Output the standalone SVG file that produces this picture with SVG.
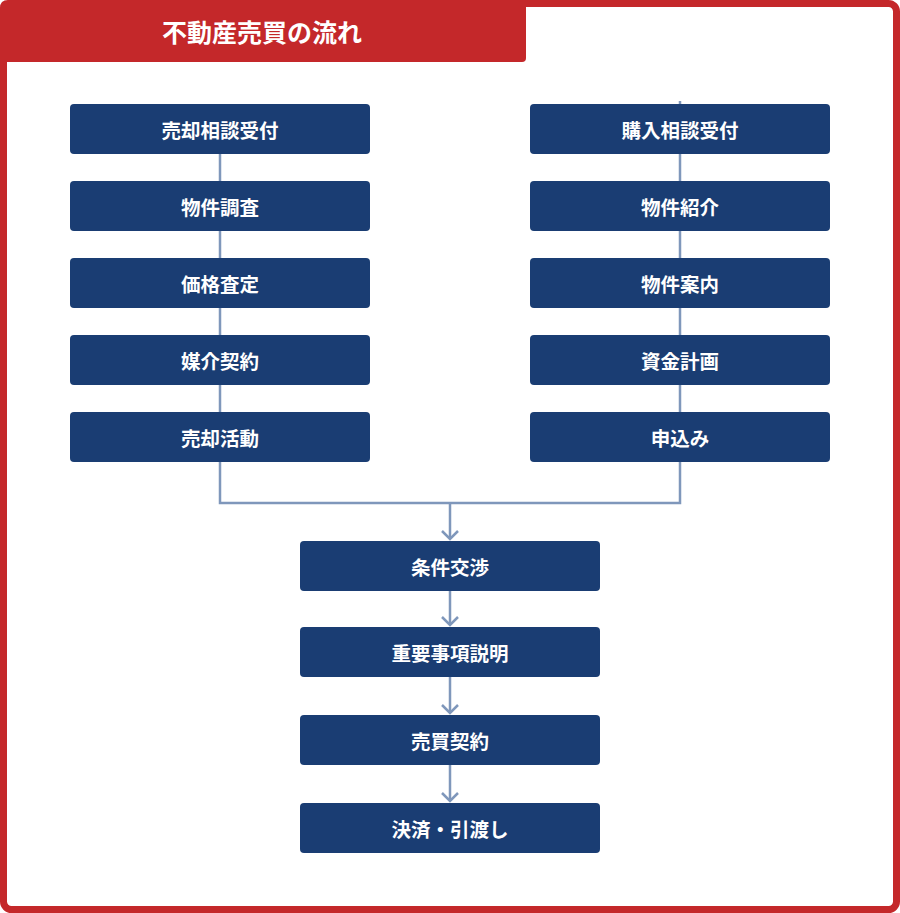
<svg xmlns="http://www.w3.org/2000/svg" width="900" height="913" viewBox="0 0 900 913">
<style>
.box{fill:#1a3d73;}
.lbl{fill:#ffffff;font-family:"Noto Sans CJK JP","Noto Sans CJK SC",sans-serif;font-weight:bold;font-size:19.5px;text-anchor:middle;dominant-baseline:central;}
.ln{stroke:#7f97bb;stroke-width:2.5;fill:none;}
</style>
<defs>
<marker id="chev" markerWidth="20" markerHeight="20" viewBox="0 0 20 20" refX="10" refY="10" orient="auto" markerUnits="userSpaceOnUse">
<path d="M2 2 L10 10 L2 18" fill="none" stroke="#7f97bb" stroke-width="2.5"/>
</marker>
</defs>
<rect x="0" y="0" width="900" height="913" fill="#ffffff"/>
<rect x="3.5" y="3.5" width="893" height="906" rx="8" fill="#ffffff" stroke="#c4282a" stroke-width="7"/>
<g id="title">
<path d="M0 8 Q0 0 8 0 L526 0 L526 58 Q526 62 522 62 L0 62 Z" fill="#c4282a"/>
<text x="262" y="31" fill="#ffffff" font-family="Noto Sans CJK JP,sans-serif" font-weight="bold" font-size="25" text-anchor="middle" dominant-baseline="central">不動産売買の流れ</text>
</g>
<g id="connectors">
<path class="ln" d="M220 154 L220 503 L680 503 L680 101"/>
<path class="ln" d="M450 503 L450 539" marker-end="url(#chev)"/>
<path class="ln" d="M450 591 L450 625" marker-end="url(#chev)"/>
<path class="ln" d="M450 677 L450 713" marker-end="url(#chev)"/>
<path class="ln" d="M450 765 L450 801" marker-end="url(#chev)"/>
</g>
<g id="s1"><rect class="box" x="70" y="104" width="300" height="50" rx="4"/><text class="lbl" x="220" y="129">売却相談受付</text></g>
<g id="s2"><rect class="box" x="70" y="181" width="300" height="50" rx="4"/><text class="lbl" x="220" y="206">物件調査</text></g>
<g id="s3"><rect class="box" x="70" y="258" width="300" height="50" rx="4"/><text class="lbl" x="220" y="283">価格査定</text></g>
<g id="s4"><rect class="box" x="70" y="335" width="300" height="50" rx="4"/><text class="lbl" x="220" y="360">媒介契約</text></g>
<g id="s5"><rect class="box" x="70" y="412" width="300" height="50" rx="4"/><text class="lbl" x="220" y="437">売却活動</text></g>
<g id="b1"><rect class="box" x="530" y="104" width="300" height="50" rx="4"/><text class="lbl" x="680" y="129">購入相談受付</text></g>
<g id="b2"><rect class="box" x="530" y="181" width="300" height="50" rx="4"/><text class="lbl" x="680" y="206">物件紹介</text></g>
<g id="b3"><rect class="box" x="530" y="258" width="300" height="50" rx="4"/><text class="lbl" x="680" y="283">物件案内</text></g>
<g id="b4"><rect class="box" x="530" y="335" width="300" height="50" rx="4"/><text class="lbl" x="680" y="360">資金計画</text></g>
<g id="b5"><rect class="box" x="530" y="412" width="300" height="50" rx="4"/><text class="lbl" x="680" y="437">申込み</text></g>
<g id="c1"><rect class="box" x="300" y="541" width="300" height="50" rx="4"/><text class="lbl" x="450" y="566">条件交渉</text></g>
<g id="c2"><rect class="box" x="300" y="627" width="300" height="50" rx="4"/><text class="lbl" x="450" y="652">重要事項説明</text></g>
<g id="c3"><rect class="box" x="300" y="715" width="300" height="50" rx="4"/><text class="lbl" x="450" y="740">売買契約</text></g>
<g id="c4"><rect class="box" x="300" y="803" width="300" height="50" rx="4"/><text class="lbl" x="450" y="828">決済・引渡し</text></g>
</svg>
